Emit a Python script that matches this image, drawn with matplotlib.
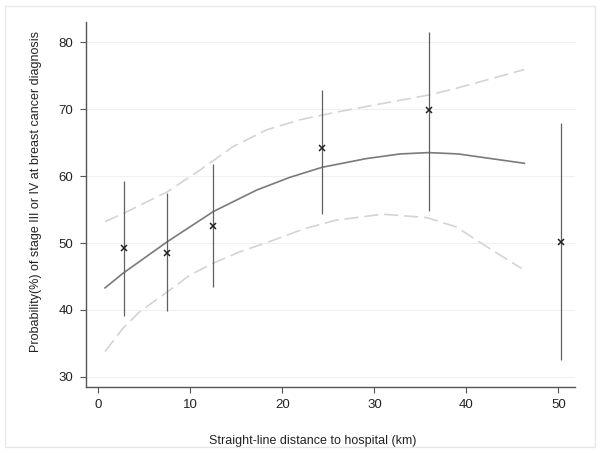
import numpy as np
import matplotlib.pyplot as plt
from matplotlib.patches import Rectangle

plt.rcParams['font.family'] = ['Liberation Sans', 'DejaVu Sans']

# observed points with 95% CI
obs_x = [2.8, 7.45, 12.45, 24.3, 35.9, 50.3]
obs_y = [49.25, 48.55, 52.6, 64.2, 69.85, 50.2]
obs_lo = [39.1, 39.85, 43.4, 54.4, 54.8, 32.6]
obs_hi = [59.3, 57.5, 61.8, 72.8, 81.5, 67.9]

# fitted curve
fit_x = [0.73, 2.7, 7.5, 12.5, 17.2, 20.8, 24.3, 29.1, 32.8, 35.9, 39.1, 46.3]
fit_y = [43.3, 45.5, 50.2, 54.7, 57.9, 59.8, 61.3, 62.6, 63.3, 63.5, 63.3, 61.9]

# upper confidence band
up_x = [0.73, 2.7, 7.5, 11.05, 14.65, 18.3, 21.9, 26.1, 30.0, 35.9, 38.9, 46.3]
up_y = [53.2, 54.4, 57.65, 60.9, 64.4, 66.9, 68.4, 69.6, 70.6, 72.1, 73.1, 75.9]

# lower confidence band
lo_x = [0.73, 2.7, 4.5, 7.5, 9.95, 12.5, 15.4, 19.0, 22.3, 25.8, 30.9, 35.7, 38.9, 42.2, 46.0]
lo_y = [33.8, 37.3, 39.75, 42.7, 45.2, 47.0, 48.7, 50.4, 52.1, 53.4, 54.3, 53.8, 52.4, 49.45, 46.2]

fig = plt.figure(figsize=(6.02, 4.53), dpi=100)
ax = fig.add_axes([86/602, 66/453, 489/602, 365/453])

fig.patches.append(Rectangle((5/602, 6/453), 590/602, 441/453, transform=fig.transFigure,
                             fill=False, edgecolor='#e8e8e8', linewidth=1))

for v in [30, 40, 50, 60, 70, 80]:
    ax.axhline(v, color='#f0f0f0', linewidth=0.8, zorder=0)

ax.plot(up_x, up_y, color='#d4d4d4', linewidth=1.2, dashes=(8.5, 3.5))
ax.plot(lo_x, lo_y, color='#d4d4d4', linewidth=1.2, dashes=(8.5, 3.5))
ax.plot(fit_x, fit_y, color='#7a7a7a', linewidth=1.2)

ax.vlines(obs_x, obs_lo, obs_hi, color='#606060', linewidth=0.9)
ax.plot(obs_x, obs_y, linestyle='none', marker='x', color='#222222', markersize=4, markeredgewidth=1.1)

ax.set_xlim(-1.34, 51.8)
ax.set_ylim(28.5, 83.0)
ax.set_xticks([0, 10, 20, 30, 40, 50])
ax.set_yticks([30, 40, 50, 60, 70, 80])

for s in ['top', 'right']:
    ax.spines[s].set_visible(False)
for s in ['left', 'bottom']:
    ax.spines[s].set_color('#555555')
    ax.spines[s].set_linewidth(1.0)
ax.tick_params(direction='out', length=4, width=0.8, color='#555555', labelsize=9.5, labelcolor='#222222', pad=5)

ax.set_xlabel('Straight-line distance to hospital (km)', fontsize=9, color='#222222')
ax.set_ylabel('Probability(%) of stage III or IV at breast cancer diagnosis', fontsize=9, color='#222222')
ax.xaxis.set_label_coords((313 - 86) / 489, -48 / 365)
ax.yaxis.set_label_coords(-44 / 489, (453 - 66 - 192) / 365)

fig.savefig('out.png', dpi=100)
